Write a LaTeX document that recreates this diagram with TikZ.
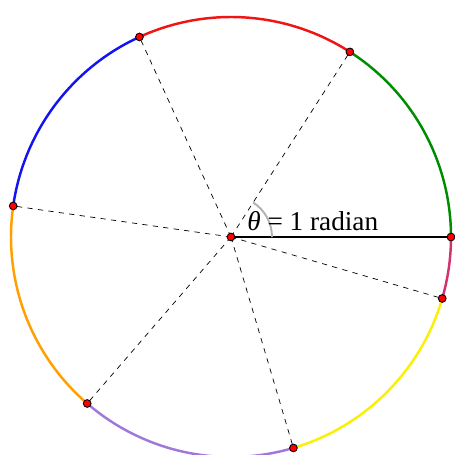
\documentclass[tikz,border=0pt]{standalone}
\usepackage{fontspec}
\setmainfont{Liberation Serif}
\definecolor{arcgreen}{RGB}{0,140,0}
\definecolor{arcred}{RGB}{240,20,20}
\definecolor{arcblue}{RGB}{20,20,240}
\definecolor{arcorange}{RGB}{255,160,0}
\definecolor{arcpurple}{RGB}{160,120,220}
\definecolor{arcyellow}{RGB}{250,240,0}
\definecolor{arcpink}{RGB}{210,50,110}
\tikzset{rim/.style={line width=1.4pt}, spot/.style={fill=red, draw=black, line width=0.5pt}}
\begin{document}
\begin{tikzpicture}
\useasboundingbox (-4.62,-4.36) rectangle (4.46,4.74);
\coordinate (O) at (0,0);
\foreach \a in {0,...,6} \coordinate (P\a) at ({deg(\a)}:4.4);
% coloured arcs, one radian each
\foreach \a/\c in {0/arcgreen, 1/arcred, 2/arcblue, 3/arcorange, 4/arcpurple, 5/arcyellow}
  \draw[rim, \c] (P\a) arc ({deg(\a)}:{deg(\a+1)}:4.4);
\draw[rim, arcpink] (P6) arc ({deg(6)}:360:4.4);
\foreach \a in {1,...,6} \draw[dashed, thin] (O) -- (P\a);
\draw[line width=1.5pt] (O) -- (P0);
\draw[gray!60, line width=1.1pt] (0.82,0) arc (0:{deg(1)}:0.82);
\node[anchor=base west, inner sep=0, font=\fontsize{15.5}{17}\selectfont] (lbl) at (0.32,0.12) {\textit{θ} = 1 radian};
\foreach \a in {0,...,6} \draw[spot] (P\a) circle (2.2pt);
\draw[spot] (O) circle (2.2pt);
\end{tikzpicture}
\end{document}
